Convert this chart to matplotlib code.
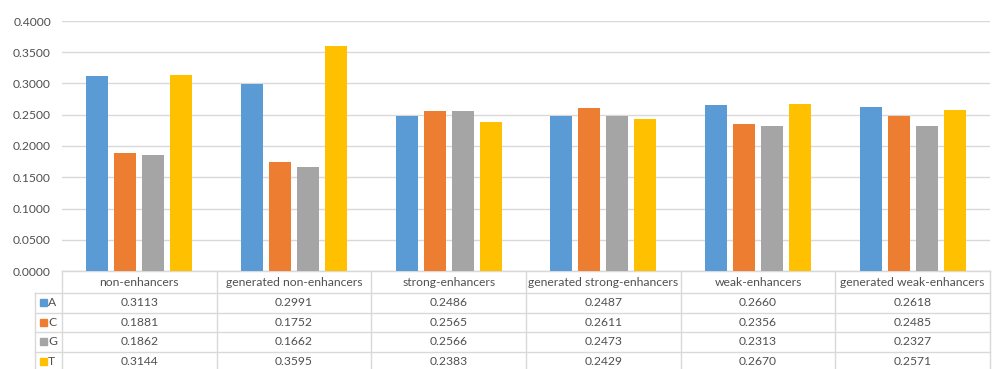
import matplotlib.pyplot as plt
from matplotlib.patches import Rectangle

plt.rcParams['font.family'] = ['Lato', 'DejaVu Sans']

categories = ["non-enhancers", "generated non-enhancers", "strong-enhancers",
              "generated strong-enhancers", "weak-enhancers", "generated weak-enhancers"]
bases = ["A", "C", "G", "T"]
A = [0.3113, 0.2991, 0.2486, 0.2487, 0.2660, 0.2618]
C = [0.1881, 0.1752, 0.2565, 0.2611, 0.2356, 0.2485]
G = [0.1862, 0.1662, 0.2566, 0.2473, 0.2313, 0.2327]
T = [0.3144, 0.3595, 0.2383, 0.2429, 0.2670, 0.2571]
series = [A, C, G, T]
colors = ["#5B9BD5", "#ED7D31", "#A5A5A5", "#FFC000"]

W, H = 992, 369
fig = plt.figure(figsize=(W / 100, H / 100), dpi=100)
x0, x1, y_top, y_zero = 62, 990, 21, 271
ax = fig.add_axes([x0 / W, (H - y_zero) / H, (x1 - x0) / W, (y_zero - y_top) / H])

n = len(categories)
step, width = 0.181, 0.142
for k, (vals, col) in enumerate(zip(series, colors)):
    xs = [i + (k - 1.5) * step for i in range(n)]
    ax.bar(xs, vals, width=width, color=col, zorder=3)

fs = 8.7
txt_c = "#505050"
ax.set_xlim(-0.5, n - 0.5)
ax.set_ylim(0, 0.4)
ax.set_yticks([i * 0.05 for i in range(9)])
ax.yaxis.set_major_formatter(plt.FuncFormatter(lambda v, p: f"{v:.4f}"))
ax.tick_params(axis='y', length=0, pad=8, labelsize=fs, labelcolor=txt_c)
ax.tick_params(axis='x', length=0, labelbottom=False)
ax.grid(axis='y', color="#D9D9D9", linewidth=1, zorder=0)
for s in ["top", "right", "left"]:
    ax.spines[s].set_visible(False)
ax.spines["bottom"].set_color("#D9D9D9")

# data table below the axis
tr = ax.get_xaxis_transform()
px_per_unit = (x1 - x0) / n
def xd(px):
    return (px - x0) / px_per_unit - 0.5
def ya(py):
    return (y_zero - py) / (y_zero - y_top)

line_c = "#D9D9D9"
row_lines = [271, 293, 312.5, 332, 351.5, 371]
label_left = 35
ax.plot([-0.5, n - 0.5], [ya(271)] * 2, transform=tr, color=line_c, lw=1, clip_on=False)
for py in row_lines[1:]:
    ax.plot([xd(label_left), n - 0.5], [ya(py)] * 2, transform=tr, color=line_c, lw=1, clip_on=False)
for i in range(n + 1):
    ax.plot([i - 0.5] * 2, [ya(271), ya(376)], transform=tr, color=line_c, lw=1, clip_on=False)
ax.plot([xd(label_left)] * 2, [ya(293), ya(376)], transform=tr, color=line_c, lw=1, clip_on=False)

for i, cat in enumerate(categories):
    ax.text(i, ya(283), cat, transform=tr, ha='center', va='center',
            fontsize=fs, color=txt_c, clip_on=False)
for r, (b, vals, col) in enumerate(zip(bases, series, colors)):
    yp = (row_lines[r + 1] + row_lines[r + 2]) / 2
    for i, v in enumerate(vals):
        ax.text(i, ya(yp), f"{v:.4f}", transform=tr, ha='center', va='center',
                fontsize=fs, color=txt_c, clip_on=False)
    fy = 1 - yp / H
    fig.patches.append(Rectangle((40 / W, fy - 3.5 / H), 7 / W, 7 / H,
                                 transform=fig.transFigure, color=col))
    fig.text(48 / W, fy, b, ha='left', va='center', fontsize=fs, color=txt_c)

fig.savefig("out.png", dpi=100)
